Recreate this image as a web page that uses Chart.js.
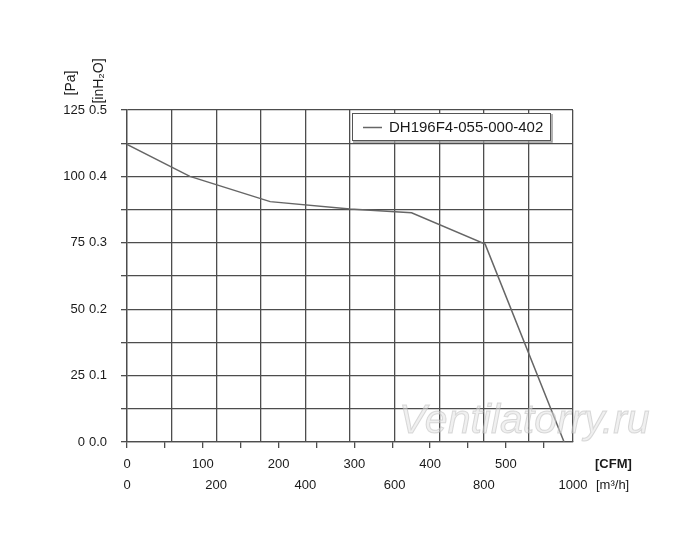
<!DOCTYPE html>
<html lang="en">
<head>
<meta charset="UTF-8" />
<title>DH196F4-055-000-402</title>
<script src="https://cdn.jsdelivr.net/npm/chart.js"></script>
<style>
  html, body { margin: 0; padding: 0; background: #fff; }
  #wrap { width: 700px; height: 538px; }
</style>
</head>
<body>
<div id="wrap"><canvas id="fanChart" width="700" height="538"></canvas></div>
<script>
  // fan curve
  const seriesName = 'DH196F4-055-000-402';
  const flowM3h = [0, 141, 321, 500, 638, 803, 980];
  const pressurePa = [112, 100, 90.5, 87.7, 86.3, 74.5, 0];

  // labelled ticks
  const paLabels = [0, 25, 50, 75, 100, 125];
  const inH2OLabels = ['0.0', '0.1', '0.2', '0.3', '0.4', '0.5'];
  const cfmLabels = [0, 100, 200, 300, 400, 500];
  const m3hLabels = [0, 200, 400, 600, 800, 1000];
  const M3H_PER_CFM = 1.699;

  const gridColor = '#4d4d4d';
  Chart.defaults.font.family = '"Liberation Sans", Arial, sans-serif';
  Chart.defaults.font.size = 13;
  Chart.defaults.color = '#1a1a1a';

  // legend box, unit titles and the watermark
  const decorations = {
    id: 'decorations',
    afterDraw(chart) {
      const ctx = chart.ctx;
      ctx.save();

      // watermark
      ctx.font = 'italic 41px "Liberation Sans", Arial, sans-serif';
      ctx.textBaseline = 'alphabetic';
      ctx.textAlign = 'left';
      ctx.fillStyle = 'rgba(225,225,225,0.5)';
      ctx.strokeStyle = 'rgba(185,185,185,0.5)';
      ctx.lineWidth = 1;
      ctx.fillText('Ventilatorry.ru', 399, 433);
      ctx.strokeText('Ventilatorry.ru', 399, 433);

      // legend
      const ds = chart.data.datasets[0];
      ctx.fillStyle = '#fff';
      ctx.fillRect(352, 113, 199, 28);
      ctx.strokeStyle = '#9a9a9a';
      ctx.lineWidth = 1.5;
      ctx.beginPath();
      ctx.moveTo(353, 142); ctx.lineTo(552, 142); ctx.lineTo(552, 114);
      ctx.stroke();
      ctx.strokeStyle = '#555';
      ctx.lineWidth = 1;
      ctx.strokeRect(352.5, 113.5, 198, 27);
      ctx.strokeStyle = ds.borderColor;
      ctx.lineWidth = ds.borderWidth;
      ctx.beginPath();
      ctx.moveTo(363, 127.5); ctx.lineTo(382, 127.5);
      ctx.stroke();
      ctx.fillStyle = '#1a1a1a';
      ctx.font = '15px "Liberation Sans", Arial, sans-serif';
      ctx.textBaseline = 'middle';
      ctx.fillText(ds.label, 389, 128);

      // unit titles
      ctx.font = '14px "Liberation Sans", Arial, sans-serif';
      ctx.textAlign = 'center';
      ctx.save();
      ctx.translate(71, 83);
      ctx.rotate(-Math.PI / 2);
      ctx.fillText('[Pa]', 0, 0);
      ctx.restore();
      ctx.save();
      ctx.translate(99, 81);
      ctx.rotate(-Math.PI / 2);
      ctx.fillText('[inH\u2082O]', 0, 0);
      ctx.restore();

      ctx.textAlign = 'left';
      ctx.font = 'bold 13px "Liberation Sans", Arial, sans-serif';
      ctx.fillText('[CFM]', 595, 464);
      ctx.font = '13px "Liberation Sans", Arial, sans-serif';
      ctx.fillText('[m\u00b3/h]', 596, 485);

      ctx.restore();
    }
  };

  const ctx = document.getElementById('fanChart').getContext('2d');
  new Chart(ctx, {
    type: 'line',
    data: {
      datasets: [{
        label: seriesName,
        data: flowM3h.map((x, i) => ({ x: x, y: pressurePa[i] })),
        borderColor: '#666',
        borderWidth: 1.5,
        pointRadius: 0,
        tension: 0,
        fill: false,
        xAxisID: 'x',
        yAxisID: 'y'
      }]
    },
    options: {
      responsive: false,
      animation: false,
      layout: { padding: { left: 50, top: 110, right: 127, bottom: 42 } },
      plugins: { legend: { display: false }, tooltip: { enabled: false } },
      scales: {
        x: {
          type: 'linear', position: 'bottom', weight: 1, min: 0, max: 1000,
          ticks: {
            stepSize: 100, autoSkip: false, maxRotation: 0, padding: 6,
            callback: v => m3hLabels.includes(v) ? String(v) : ''
          },
          grid: { color: gridColor, lineWidth: 1.3, drawTicks: false },
          border: { display: false },
          afterFit: s => { s.height = 24; }
        },
        xCfm: {
          type: 'linear', position: 'bottom', weight: 0, min: 0, max: 1000 / M3H_PER_CFM,
          ticks: {
            stepSize: 50, includeBounds: false, autoSkip: false, maxRotation: 0, padding: 9,
            callback: v => cfmLabels.includes(v) ? String(v) : ''
          },
          grid: { drawOnChartArea: false, tickLength: 6, color: gridColor, lineWidth: 1.3 },
          border: { display: true, color: gridColor, width: 1.3 },
          afterFit: s => { s.height = 30; }
        },
        y: {
          position: 'left', weight: 1, min: 0, max: 125,
          ticks: {
            stepSize: 12.5, autoSkip: false, padding: 2,
            callback: v => paLabels.includes(v) ? String(v) : ''
          },
          grid: { display: false, drawTicks: false, tickLength: 0 },
          border: { display: false },
          afterFit: s => { s.width = 37; }
        },
        yIn: {
          position: 'left', weight: 0, min: 0, max: 125,
          ticks: {
            stepSize: 12.5, autoSkip: false, padding: 14,
            callback: v => v % 25 === 0 ? inH2OLabels[v / 25] : ''
          },
          grid: { color: gridColor, lineWidth: 1.3, tickLength: 6 },
          border: { display: true, color: gridColor, width: 1.3 },
          afterFit: s => { s.width = 40; }
        }
      }
    },
    plugins: [decorations]
  });
</script>
</body>
</html>
